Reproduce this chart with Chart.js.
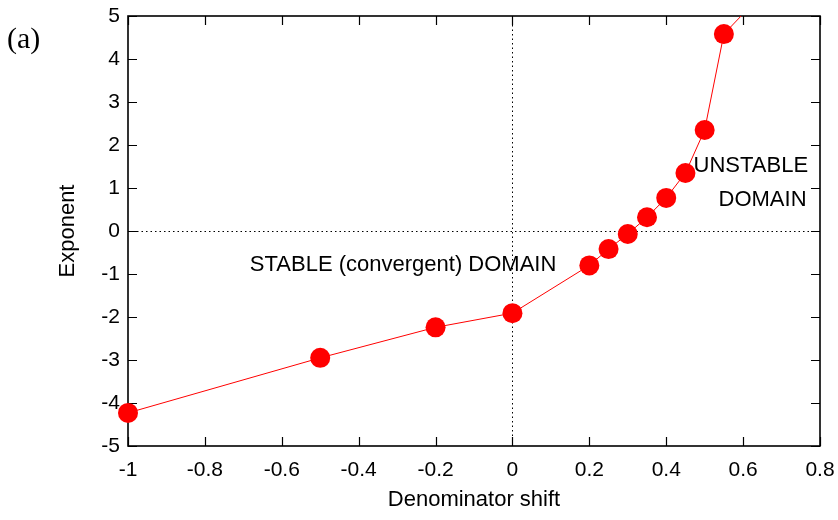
<!DOCTYPE html>
<html>
<head>
<meta charset="utf-8">
<title>Exponent vs denominator shift</title>
<script src="https://cdn.jsdelivr.net/npm/chart.js@4.4.1/dist/chart.umd.min.js"></script>
<style>
  html, body { margin: 0; padding: 0; background: #fff; }
  #wrap { width: 838px; height: 520px; }
</style>
</head>
<body>
<div id="wrap"><canvas id="graphExp" width="838" height="520"></canvas></div>
<script>
// data
const shifts = [-1, -0.5, -0.2, 0, 0.2, 0.25, 0.3, 0.35, 0.4, 0.45, 0.5, 0.55, 0.6];
const exponents = [-4.23, -2.95, -2.24, -1.91, -0.8, -0.42, -0.07, 0.32, 0.77, 1.35, 2.35, 4.58, 5.05];
const xTicks = [-1, -0.8, -0.6, -0.4, -0.2, 0, 0.2, 0.4, 0.6, 0.8];
const yTicks = [-5, -4, -3, -2, -1, 0, 1, 2, 3, 4, 5];

// text placed inside the plot (data coordinates)
const notes = [
  { text: 'STABLE (convergent) DOMAIN', x: -0.683, y: -0.8, align: 'left' },
  { text: 'UNSTABLE', x: 0.769, y: 1.52, align: 'right' },
  { text: 'DOMAIN', x: 0.765, y: 0.72, align: 'right' }
];

const FONT = "'Liberation Sans', Arial, Helvetica, sans-serif";
const X_MIN = -1, X_MAX = 0.8, Y_MIN = -5, Y_MAX = 5;

const points = shifts.map((s, i) => ({ x: s, y: exponents[i] }));

// box, inward ticks and dotted zero axes, gnuplot style
const framePlugin = {
  id: 'frame',
  beforeDatasetsDraw(chart) {
    const { ctx, chartArea: a, scales: { x, y } } = chart;
    ctx.save();
    // zero axes
    ctx.strokeStyle = '#000';
    ctx.lineWidth = 1;
    ctx.setLineDash([1.5, 3]);
    const x0 = Math.round(x.getPixelForValue(0)) + 0.5;
    const y0 = Math.round(y.getPixelForValue(0)) + 0.5;
    ctx.beginPath();
    ctx.moveTo(x0, a.top); ctx.lineTo(x0, a.bottom);
    ctx.moveTo(a.left, y0); ctx.lineTo(a.right, y0);
    ctx.stroke();
    ctx.setLineDash([]);

    // border
    ctx.lineWidth = 1.6;
    ctx.strokeRect(a.left, a.top, a.right - a.left, a.bottom - a.top);

    // ticks on all four sides
    const tl = 9;
    ctx.lineWidth = 1.2;
    ctx.beginPath();
    xTicks.forEach(v => {
      const px = Math.round(x.getPixelForValue(v)) + 0.5;
      ctx.moveTo(px, a.bottom); ctx.lineTo(px, a.bottom - tl);
      ctx.moveTo(px, a.top); ctx.lineTo(px, a.top + tl);
    });
    yTicks.forEach(v => {
      const py = Math.round(y.getPixelForValue(v)) + 0.5;
      ctx.moveTo(a.left, py); ctx.lineTo(a.left + tl, py);
      ctx.moveTo(a.right, py); ctx.lineTo(a.right - tl, py);
    });
    ctx.stroke();
    ctx.restore();
  },
  afterDraw(chart) {
    const { ctx, scales: { x, y } } = chart;
    ctx.save();
    ctx.fillStyle = '#000';
    ctx.textBaseline = 'middle';
    ctx.font = '22px ' + FONT;
    notes.forEach(n => {
      ctx.textAlign = n.align;
      ctx.fillText(n.text, x.getPixelForValue(n.x), y.getPixelForValue(n.y));
    });
    // panel letter
    ctx.font = "30px 'Liberation Serif', 'DejaVu Serif', serif";
    ctx.textAlign = 'left';
    ctx.fillText('(a)', 7, 40);
    ctx.restore();
  }
};

const ctx = document.getElementById('graphExp');
const chart = new Chart(ctx, {
  type: 'line',
  data: {
    datasets: [{
      data: points,
      borderColor: '#ff0000',
      borderWidth: 1,
      backgroundColor: '#ff0000',
      pointBackgroundColor: '#ff0000',
      pointBorderWidth: 0,
      // points beyond the top of the range are not drawn
      pointRadius: c => (c.raw && c.raw.y > Y_MAX ? 0 : 10),
      pointHoverRadius: 10,
      tension: 0,
      clip: { left: 12, right: 12, bottom: 12, top: 0 }
    }]
  },
  options: {
    responsive: false,
    animation: false,
    layout: { padding: { top: 16, right: 18, left: 0, bottom: 0 } },
    plugins: {
      legend: { display: false },
      tooltip: { enabled: false }
    },
    scales: {
      x: {
        type: 'linear',
        min: X_MIN,
        max: X_MAX,
        afterBuildTicks: s => { s.ticks = xTicks.map(v => ({ value: v })); },
        afterFit: s => { s.height = 74; s.paddingLeft = 0; s.paddingRight = 0; },
        grid: { display: false, drawTicks: false },
        border: { display: false },
        ticks: {
          color: '#000',
          padding: 12,
          font: { family: FONT, size: 21 },
          callback: v => String(Math.round(v * 10) / 10)
        },
        title: {
          display: true,
          text: 'Denominator shift',
          color: '#000',
          font: { family: FONT, size: 22 },
          padding: { top: 0, bottom: 7 }
        }
      },
      y: {
        type: 'linear',
        min: Y_MIN,
        max: Y_MAX,
        afterBuildTicks: s => { s.ticks = yTicks.map(v => ({ value: v })); },
        afterFit: s => { s.width = 128; s.paddingTop = 0; s.paddingBottom = 0; },
        grid: { display: false, drawTicks: false },
        border: { display: false },
        ticks: {
          color: '#000',
          padding: 8,
          font: { family: FONT, size: 21 },
          callback: v => String(v)
        },
        title: {
          display: true,
          text: 'Exponent',
          color: '#000',
          font: { family: FONT, size: 22 },
          padding: { top: 55, bottom: 0 }
        }
      }
    }
  },
  plugins: [framePlugin]
});
</script>
</body>
</html>
